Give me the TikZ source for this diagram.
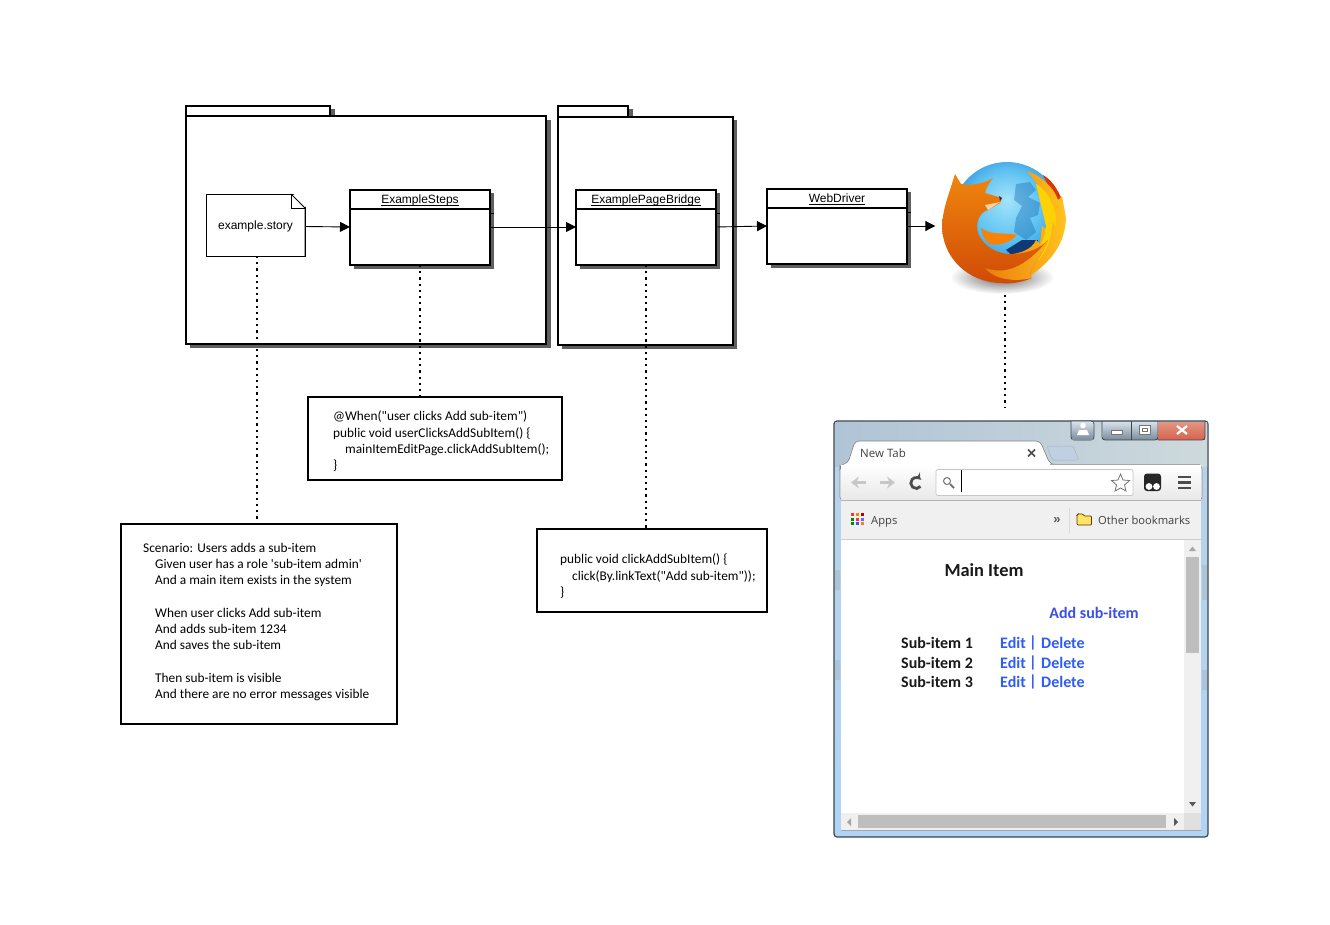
\documentclass[tikz,border=0pt]{standalone}
\usepackage{fontspec}
\setmainfont{Liberation Sans}
\newfontfamily\chromefont{Open Sans}
\newfontfamily\pagefont{Carlito}
\usetikzlibrary{arrows.meta}
\definecolor{shadowgray}{HTML}{5F5F5F}
\definecolor{linkblue}{HTML}{2F5CF5}
\definecolor{addblue}{HTML}{3A50E8}
\definecolor{framegray}{HTML}{3C4650}
\definecolor{barlight}{HTML}{F0F0F0}
\definecolor{thumbgray}{HTML}{BEBEBE}
\definecolor{btntop}{HTML}{D5E0EA}
\definecolor{btnbottom}{HTML}{7F8F9F}
\definecolor{foxdark}{HTML}{D04A06}
\definecolor{foxmid}{HTML}{F0860E}
\definecolor{flame}{HTML}{FFC41E}
\definecolor{globea}{HTML}{A4E4FA}
\definecolor{globeb}{HTML}{62C4F2}
\definecolor{globec}{HTML}{1C7ED0}
\definecolor{globed}{HTML}{0C3F98}
\pgfdeclareradialshading{globe}{\pgfpoint{0bp}{8bp}}{color(0bp)=(globea); color(15bp)=(globeb); color(32bp)=(globec); color(46bp)=(globed); color(50bp)=(globed)}
\tikzset{pkg/.style = {draw, fill = white, line width = 2.7pt, inner sep = 0pt, outer sep = 0pt, anchor = north west}}
\tikzset{classbox/.style = {draw, fill = white, line width = 2.3pt, inner sep = 0pt, outer sep = 0pt, anchor = north west, minimum width = 140pt, minimum height = 75pt}}
\tikzset{classname/.style = {font = \fontsize{12}{14}\selectfont, inner sep = 0pt, anchor = base}}
\tikzset{codebox/.style = {draw, fill = white, line width = 2.2pt, inner sep = 0pt, outer sep = 0pt, anchor = north west}}
\tikzset{codetext/.style = {font = \pagefont\fontsize{13.33}{16.25}\selectfont, align = left, anchor = north west, inner sep = 0pt}}
\tikzset{edge/.style = {-{Triangle[length = 10pt, width = 10pt]}, line width = 0.9pt}}
\tikzset{dots/.style = {line width = 2.4pt, dash pattern = on 2.2pt off 4pt}}
\tikzset{pagetext/.style = {font = \pagefont\bfseries\fontsize{16}{18}\selectfont, inner sep = 0pt}}
\tikzset{chrometext/.style = {font = \chromefont\fontsize{11.2}{14}\selectfont, text = black!75, inner sep = 0pt}}
\tikzset{winbtn/.style = {top color = btntop, bottom color = btnbottom, draw = framegray, line width = 0.8pt}}
\begin{document}
\begin{tikzpicture}[x = 1pt, y = -1pt]
	\useasboundingbox (0, 0) rectangle (1330, 924);

	\fill[shadowgray] (190, 109) rectangle (335, 121);
	\fill[shadowgray] (190, 120) rectangle (551, 348);
	\node[pkg, minimum width = 144pt, minimum height = 10pt] (stepstab) at (186, 106) {};
	\node[pkg, minimum width = 360pt, minimum height = 228pt] (stepspkg) at (186, 116) {};

	\fill[shadowgray] (562, 109) rectangle (633, 122);
	\fill[shadowgray] (562, 120) rectangle (737, 349);
	\node[pkg, minimum width = 70pt, minimum height = 11pt] (bridgetab) at (558, 106) {};
	\node[pkg, minimum width = 175pt, minimum height = 228pt] (bridgepkg) at (558, 117) {};

	\node[draw, fill = white, line width = 0.8pt, inner sep = 0pt, outer sep = 0pt, anchor = north west, minimum width = 99pt, minimum height = 62pt, font = \fontsize{12}{14}\selectfont] (story) at (206, 194) {\raisebox{-1pt}[\height][\depth]{example.story}};
	\fill[white] (291.5, 192) -- (307, 192) -- (307, 208.5) -- cycle;
	\draw[line width = 0.8pt] (291, 194) -- (305, 208) -- (305, 256);
	\draw[line width = 0.8pt] (291, 194) -- (291, 208) -- (305, 208);

	\fill[shadowgray] (354, 193) rectangle (494, 269);
	\node[classbox] (steps) at (350, 190) {};
	\draw[line width = 2.3pt] (350, 209) -- (490, 209);
	\draw[line width = 0.7pt] (490, 213.5) -- (494, 213.5);
	\node[classname] (stepsname) at (420, 203.5) {\underline{\smash{ExampleSteps}}};

	\fill[shadowgray] (580, 193) rectangle (720, 269);
	\node[classbox] (bridge) at (576, 190) {};
	\draw[line width = 2.3pt] (576, 209) -- (716, 209);
	\draw[line width = 0.7pt] (716, 213.5) -- (720, 213.5);
	\node[classname] (bridgename) at (646, 203.5) {\underline{\smash{ExamplePageBridge}}};

	\fill[shadowgray] (771, 192) rectangle (911, 268);
	\node[classbox] (driver) at (767, 189) {};
	\draw[line width = 2.3pt] (767, 208) -- (907, 208);
	\draw[line width = 0.7pt] (907, 212.5) -- (911, 212.5);
	\node[classname] (drivername) at (837, 202.5) {\underline{\smash{WebDriver}}};

	\draw[edge] (story.east |- 0, 226.5) -- (steps.west |- 0, 227);
	\draw[edge] (steps.east |- 0, 227) -- (bridge.west |- 0, 227);
	\draw[edge] (bridge.east |- 0, 227) -- (driver.west |- 0, 226);

	\shade[inner color = black!60, outer color = white] (1002, 277) ellipse [x radius = 52, y radius = 17];
	\shade[shading = globe] (1007, 217) circle [radius = 55];
	\fill[globec!85!black, opacity = 0.4] (1016, 184) -- (1030, 182) -- (1036, 190) -- (1028, 197) -- (1040, 203) -- (1038, 215) -- (1030, 218) -- (1036, 232) -- (1026, 240) -- (1014, 232) -- (1016, 218) -- (1022, 206) -- (1014, 200) -- cycle;
	\fill[globed!70!black, opacity = 0.9] (1006, 250) -- (1022, 240) -- (1038, 240) -- (1036, 254) -- (1015, 258) -- cycle;
	\node[circle, minimum size = 125pt, inner sep = 0pt] (firefox) at (1004, 225) {};
	\fill[red!50!orange!85!black] (1043, 175) .. controls (1052, 180) and (1058, 190) .. (1062, 200) -- (1054, 198) -- cycle;
	\shade[left color = foxmid, right color = flame] (1027, 171) .. controls (1042, 176) and (1054, 188) .. (1058, 200) -- (1062, 196) -- (1066, 218) .. controls (1065, 245) and (1050, 262) .. (1030, 276) -- (1000, 270) -- (1000, 255) .. controls (1018, 255) and (1032, 250) .. (1036, 240) -- (1040, 244) -- (1042, 226) -- (1047, 230) -- (1046, 210) -- (1039, 200) -- (1045, 200) .. controls (1042, 190) and (1036, 182) .. cycle;
	\fill[yellow!70!orange] (1036, 184) .. controls (1048, 190) and (1058, 210) .. (1056, 226) -- (1052, 222) .. controls (1052, 245) and (1042, 262) .. (1024, 270) .. controls (1036, 258) and (1044, 244) .. (1046, 226) -- cycle;
	\shade[top color = foxmid, bottom color = foxdark] (955, 174) -- (961, 184) .. controls (970, 186) and (983, 184) .. (993, 178) .. controls (989, 183) and (986, 188) .. (985, 193) -- (1002, 198) -- (1000, 203) -- (988, 210) .. controls (980, 212) and (975, 222) .. (978, 233) .. controls (984, 248) and (1000, 255) .. (1014, 254) .. controls (1030, 253) and (1040, 248) .. (1048, 240) .. controls (1040, 262) and (1025, 272) .. (1032, 278) .. controls (1020, 283) and (1010, 284) .. (1000, 283) .. controls (968, 282) and (942, 258) .. (942, 225) .. controls (943, 212) and (946, 202) .. (949, 193) -- cycle;
	\shade[left color = foxmid, right color = flame, opacity = 0.85] (985, 268) .. controls (1005, 275) and (1025, 268) .. (1048, 240) .. controls (1040, 262) and (1025, 272) .. (1032, 278) .. controls (1015, 282) and (995, 280) .. cycle;
	\shade[top color = foxmid, bottom color = orange] (981, 228) .. controls (992, 236) and (1005, 232) .. (1017, 235) .. controls (1010, 243) and (998, 246) .. (990, 244) .. controls (984, 240) and (982, 234) .. cycle;
	\fill[white!65!orange] (985, 205) -- (1000, 202) -- (988, 210) -- cycle;
	\fill[black!80] (999, 196) -- (1002, 198) -- (1000, 201) -- cycle;

	\draw[dots] (story.south -| 257, 0) -- (257, 523);
	\draw[dots] (steps.south) -- (420, 396);
	\draw[dots] (bridge.south) -- (646, 528);
	\coordinate (browsertop) at (1005, 407);
	\draw[dots] (1005, 295) -- (browsertop);

	\node[codebox, minimum width = 254pt, minimum height = 83pt] (whenbox) at (308, 397) {};
	\node[codetext] (whentext) at (333, 411) {@When("user clicks Add sub-item")\\public void userClicksAddSubItem() \{\\\hspace*{12pt}mainItemEditPage.clickAddSubItem();\\\}};
	\node[codebox, minimum width = 276pt, minimum height = 200pt] (scenariobox) at (121, 524) {};
	\node[codetext] (scenariotext) at (143, 543) {Scenario: Users adds a sub-item\\\hspace*{12pt}Given user has a role 'sub-item admin'\\\hspace*{12pt}And a main item exists in the system\\[16.25pt]\hspace*{12pt}When user clicks Add sub-item\\\hspace*{12pt}And adds sub-item 1234\\\hspace*{12pt}And saves the sub-item\\[16.25pt]\hspace*{12pt}Then sub-item is visible\\\hspace*{12pt}And there are no error messages visible};
	\node[codebox, minimum width = 230pt, minimum height = 83pt] (clickbox) at (537, 529) {};
	\node[codetext] (clicktext) at (560, 554) {public void clickAddSubItem() \{\\\hspace*{12pt}click(By.linkText("Add sub-item"));\\\}};

	\shade[draw = framegray, line width = 1.2pt, rounded corners = 3pt, top color = {rgb,255:red,185;green,210;blue,232}, bottom color = {rgb,255:red,175;green,212;blue,245}] (834, 421) rectangle (1208, 837);
	\shade[left color = {rgb,255:red,176;green,196;blue,214}, middle color = {rgb,255:red,168;green,201;blue,230}, right color = {rgb,255:red,205;green,217;blue,220}] (835, 422) rectangle (1207, 466);
	\fill[black!40, opacity = 0.25] (835, 570) rectangle (840, 590) (835, 660) rectangle (840, 680) (1202, 565) rectangle (1207, 600) (1202, 670) rectangle (1207, 690);

	\draw[winbtn] (1071, 421) [rounded corners = 3pt] -- (1071, 440) -- (1094, 440) -- (1094, 421) [sharp corners] -- cycle;
	\shade[winbtn, draw = none] (1072, 422) rectangle (1093, 439);
	\fill[white] (1083, 425.5) circle [radius = 2.8];
	\fill[white] (1077, 435) -- (1079, 430) -- (1087, 430) -- (1089, 435) -- cycle;
	\shade[winbtn, draw = none] (1103, 422) rectangle (1158, 439);
	\draw[framegray, line width = 0.8pt] (1102, 421) [rounded corners = 3pt] -- (1102, 440) -- (1158, 440) [sharp corners] -- (1158, 421);
	\draw[framegray, line width = 0.5pt] (1131, 421) -- (1131, 440);
	\fill[white, draw = black!55, line width = 0.5pt] (1111, 430) rectangle (1122, 434);
	\fill[white, draw = black!55, line width = 0.5pt] (1139, 425) rectangle (1150, 434);
	\draw[black!55, line width = 1pt] (1142, 428) rectangle (1147, 431);
	\shade[top color = {rgb,255:red,225;green,150;blue,130}, middle color = {rgb,255:red,190;green,50;blue,30}, bottom color = {rgb,255:red,215;green,100;blue,80}] (1158, 422) rectangle (1205, 439);
	\draw[framegray, line width = 0.8pt] (1158, 440) [rounded corners = 3pt] -- (1205, 440) -- (1205, 421);
	\draw[white, line width = 2.2pt] (1177, 426) -- (1187, 434) (1187, 426) -- (1177, 434);

	\fill[draw = black!30, line width = 0.5pt, fill = {rgb,255:red,190;green,208;blue,225}, rounded corners = 2pt] (1047, 446) -- (1073, 446) -- (1079, 460) -- (1052, 460) -- cycle;

	\fill[white, draw = black!50, line width = 0.6pt, rounded corners = 3pt] (840, 466) rectangle (1202, 500);
	\fill[white, draw = black!50, line width = 0.6pt, rounded corners = 4pt] (840, 465) -- (848, 463) -- (855, 441) -- (1040, 441) -- (1050, 464) -- (1058, 465) -- (1058, 470) -- (840, 470) -- cycle;
	\shade[top color = white, bottom color = black!9] (841, 465) rectangle (1201, 500);
	\draw[black!35, line width = 0.7pt] (1050, 464.5) -- (1200, 464.5);
	\fill[white] (856, 443) rectangle (1039, 466);
	\node[chrometext, anchor = west, font = \chromefont\fontsize{11.5}{14}\selectfont] (tabtitle) at (860, 453) {New Tab};
	\draw[black!70, line width = 1.5pt] (1028, 449.5) -- (1035, 456.5) (1035, 449.5) -- (1028, 456.5);

	\draw[-{Stealth[length = 8pt, width = 12pt]}, black!22, line width = 2.6pt] (866, 482.5) -- (851, 482.5);
	\draw[-{Stealth[length = 8pt, width = 12pt]}, black!22, line width = 2.6pt] (880, 482.5) -- (895, 482.5);
	\draw[-{Stealth[length = 5pt, width = 9pt]}, black!70, line width = 2.8pt] (920.5, 486.5) arc [start angle = 40, end angle = 315, radius = 5.5];
	\fill[white, draw = black!22, line width = 0.7pt, rounded corners = 2pt] (936, 469.5) rectangle (1133, 495.5);
	\draw[black!55, line width = 1pt] (947, 481) circle [radius = 3.5];
	\draw[black!55, line width = 1.8pt] (950, 484) -- (954, 488);
	\draw[black, line width = 1pt] (961.5, 470) -- (961.5, 492);
	\draw[black!55, fill = white, line width = 0.8pt] (1120.5, 474) -- (1123, 480) -- (1129.5, 480.5) -- (1124.5, 485) -- (1126, 491) -- (1120.5, 488) -- (1115, 491) -- (1116.5, 485) -- (1111.5, 480.5) -- (1118, 480) -- cycle;
	\fill[black!85, rounded corners = 3pt] (1144, 473.5) rectangle (1161, 491);
	\fill[white] (1149, 486.5) circle [radius = 3.4] (1156.5, 486.5) circle [radius = 3.4];
	\draw[black!70, line width = 2.8pt] (1178, 477) -- (1191, 477) (1178, 482.5) -- (1191, 482.5) (1178, 488) -- (1191, 488);

	\fill[barlight] (841, 501) rectangle (1201, 539);
	\draw[black!30, line width = 0.7pt] (841, 500.5) -- (1201, 500.5);
	\draw[black!20, line width = 0.7pt] (841, 539.5) -- (1201, 539.5);
	\foreach \gridx/\gridy/\gridcolor in {851/513/red!80, 856/513/orange, 860.5/513/red!70!black, 851/517.5/green!55!black, 856/517.5/red!80, 860.5/517.5/blue!60, 851/522/green!55!black, 856/522/blue!70, 860.5/522/orange}
		\fill[\gridcolor] (\gridx, \gridy) rectangle ++(3.2, 3.2);
	\node[chrometext, anchor = base west] (apps) at (871, 524) {Apps};
	\node[chrometext, anchor = center, font = \bfseries\fontsize{13}{14}\selectfont, text = black!65] (more) at (1057, 520.5) {»};
	\draw[black!15, line width = 0.7pt] (1069.5, 508) -- (1069.5, 533);
	\fill[orange!35!yellow!60!white, draw = black!60!orange, line width = 0.7pt, rounded corners = 1pt] (1077, 515) -- (1077, 525) -- (1091.5, 525) -- (1091.5, 516) -- (1084, 516) -- (1083, 514) -- (1078, 514) -- cycle;
	\node[chrometext, anchor = base west] (others) at (1098, 524) {Other bookmarks};

	\fill[white] (841, 540) rectangle (1201, 830);
	\fill[barlight] (1184, 540) rectangle (1201, 813);
	\fill[barlight] (841, 813) rectangle (1184, 830);
	\fill[black!12] (1184, 813) rectangle (1201, 830);
	\fill[thumbgray] (1186, 557) rectangle (1199, 653);
	\fill[thumbgray] (858, 815) rectangle (1166, 828);
	\fill[black!35] (1192.5, 546.5) -- (1196, 551) -- (1189, 551) -- cycle;
	\fill[black!65] (1189, 802) -- (1196, 802) -- (1192.5, 806.5) -- cycle;
	\fill[black!35] (851, 818) -- (851, 826) -- (847, 822) -- cycle;
	\fill[black!65] (1174, 818) -- (1174, 826) -- (1178, 822) -- cycle;
	\draw[black!35, line width = 0.7pt] (841, 830.5) -- (1201, 830.5);

	\node[pagetext, font = \pagefont\bfseries\fontsize{18.4}{20}\selectfont, text = black!90] (mainitem) at (984, 570) {Main Item};
	\node[pagetext, text = addblue] (addsub) at (1094, 613) {Add sub-item};
	\foreach \rowy/\rown in {643/1, 663/2, 682/3} {
		\node[pagetext, text = black!90, anchor = west] (sub\rown) at (901, \rowy) {Sub-item \rown};
		\node[pagetext, text = linkblue, anchor = west] (edit\rown) at (1000, \rowy) {Edit};
		\node[pagetext, text = linkblue, anchor = center] (sep\rown) at (1033, \rowy) {|};
		\node[pagetext, text = linkblue, anchor = west] (del\rown) at (1041, \rowy) {Delete};
	}

	\draw[edge, shorten > = 6pt] (driver.east |- 0, 226) -- (firefox.west |- 0, 226);
\end{tikzpicture}
\end{document}
